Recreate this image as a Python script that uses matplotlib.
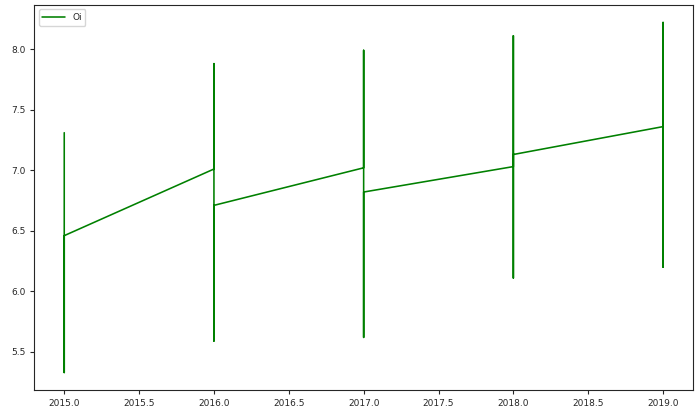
import numpy as np
import matplotlib.pyplot as plt
import seaborn as sns

# values, in drawing order (line runs year by year)
years = [2015, 2016, 2017, 2018, 2019]
vals_2015 = [7.31, 5.33, 6.46]
vals_2016 = [7.01, 7.88, 5.59, 6.71]
vals_2017 = [7.02, 7.99, 5.62, 6.82]
vals_2018 = [7.03, 8.11, 6.11, 7.13]
vals_2019 = [7.36, 8.22, 6.20, 7.36]
label = 'Oi'

per_year = [vals_2015, vals_2016, vals_2017, vals_2018, vals_2019]
x = np.concatenate([[yr] * len(v) for yr, v in zip(years, per_year)])
y = np.concatenate(per_year)

sns.set_style('ticks')
plt.rcParams['font.family'] = ['DejaVu Sans']

fig = plt.figure(figsize=(7, 4.11), dpi=100)
ax = fig.add_axes([0.049, 0.051, 0.941, 0.937])
ax.plot(x, y, color='green', lw=1.15, label=label)

ax.tick_params(labelsize=6.5, length=3, width=0.8)
for s in ax.spines.values():
    s.set_linewidth(0.8)
ax.legend(loc='upper left', fontsize=6.5, handlelength=2.5)

fig.savefig('out.png', dpi=100)
